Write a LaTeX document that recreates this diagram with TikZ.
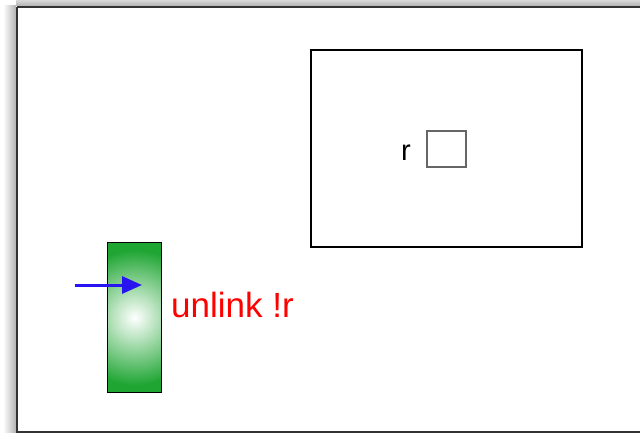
\documentclass[tikz,border=0pt]{standalone}
\usepackage{fontspec}
\setmainfont{Liberation Sans}
\usetikzlibrary{arrows.meta}
\definecolor{boxgreen}{RGB}{30,165,50}
\definecolor{arrowblue}{RGB}{40,20,240}
\tikzset{
  frame/.style={draw=black!80, line width=2pt},
  greenbox/.style={draw=black, line width=1.2pt, minimum width=53pt, minimum height=149pt, inner sep=0pt},
  plainbox/.style={draw=black, line width=1.2pt, inner sep=0pt},
  smallbox/.style={draw=black!60, line width=1.5pt, inner sep=0pt, minimum width=39pt, minimum height=36pt},
  flow/.style={draw=arrowblue, line width=3pt, -{Triangle[length=20pt,width=17pt]}}
}
\begin{document}
\begin{tikzpicture}[x=1pt,y=-1pt]
\useasboundingbox (0,0) rectangle (640,433);
% soft shadow of outer frame
\shade[left color=white, right color=black!30] (3,6) rectangle (16,433);
\shade[top color=white, bottom color=black!30] (16,-6) rectangle (640,6);
\fill[white] (16,6) rectangle (640,433);
\draw[frame] (17,7) -- (17,432) -- (641,432);
\draw[frame] (17,7) -- (641,7);
% process box with state r
\node[plainbox, minimum width=271pt, minimum height=197pt] (proc) at (446.5,148.5) {};
\node[smallbox] (cell) at (446.5,149) {};
\node[font=\fontsize{29}{31}\selectfont, anchor=east, inner sep=0pt] (rlab) at (411,153) {r};
% green activity bar
\node[greenbox] (bar) at (134.5,317.5) {};
\begin{scope}
  \clip (bar.south west) rectangle (bar.north east);
  \fill[boxgreen] (bar.south west) rectangle (bar.north east);
  \shade[inner color=white, outer color=boxgreen] (bar.center) circle (68pt);
\end{scope}
\draw[black, line width=1.2pt] (bar.south west) rectangle (bar.north east);
\coordinate (in0) at (75,285);
\coordinate (in1) at (142,285);
\draw[flow] (in0) -- (in1);
\node[font=\fontsize{35}{38}\selectfont, text=red, anchor=west, inner sep=0pt] (ulab) at (171,305) {unlink !r};
\end{tikzpicture}
\end{document}
